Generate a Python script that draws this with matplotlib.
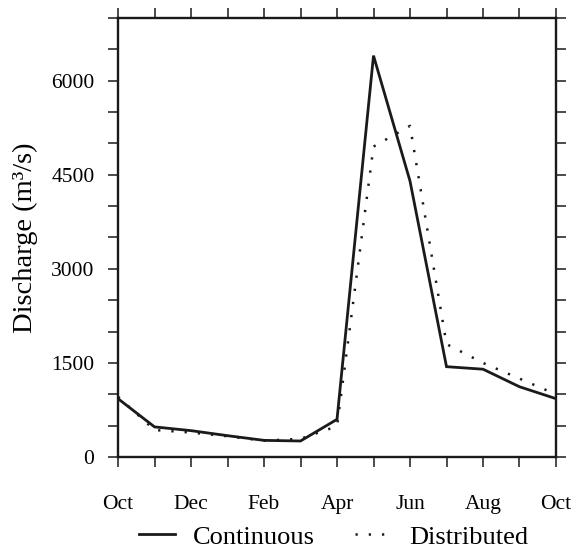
import matplotlib
matplotlib.use("Agg")
import matplotlib.pyplot as plt
from matplotlib.ticker import MultipleLocator, FixedLocator

plt.rcParams['font.family'] = ['Liberation Serif', 'DejaVu Serif']

# month index 0 = Oct ... 12 = Oct (next year)
months = list(range(13))
continuous = [930, 480, 420, 340, 265, 255, 600, 6400, 4400, 1440, 1400, 1120, 930]
distributed = [960, 430, 390, 330, 260, 290, 490, 4950, 5280, 1800, 1500, 1250, 1000]
xtick_pos = [0, 2, 4, 6, 8, 10, 12]
xtick_labels = ["Oct", "Dec", "Feb", "Apr", "Jun", "Aug", "Oct"]
ytick_major = [0, 1500, 3000, 4500, 6000]

fig = plt.figure(figsize=(5.86, 5.49), dpi=100)
ax = fig.add_axes([0.2014, 0.1676, 0.7474, 0.7996])

l1, = ax.plot(months, continuous, color='#1a1a1a', lw=2.0, solid_joinstyle='miter',
              label='Continuous')
l2, = ax.plot(months, distributed, color='#1a1a1a', lw=1.8, linestyle=(0, (0.9, 4.4)),
              dash_capstyle='butt', label='Distributed')

ax.set_xlim(0, 12)
ax.set_ylim(0, 7000)
ax.xaxis.set_major_locator(FixedLocator(xtick_pos))
ax.set_xticklabels(xtick_labels)
ax.xaxis.set_minor_locator(MultipleLocator(1))
ax.yaxis.set_major_locator(FixedLocator(ytick_major))
ax.yaxis.set_minor_locator(MultipleLocator(500))

for s in ax.spines.values():
    s.set_linewidth(1.7)
    s.set_color('#1a1a1a')

ax.tick_params(which='both', direction='out', length=7.5, width=1.1, color='#1a1a1a',
               top=True, right=True, labelsize=15.5)
ax.tick_params(axis='x', which='both', pad=20)
ax.tick_params(axis='y', which='both', pad=9.5)

ax.set_ylabel("Discharge (m³/s)", fontsize=20.5)
ax.yaxis.set_label_coords(-0.183, 0.5)

ax.legend(handles=[l1, l2], loc='center', bbox_to_anchor=(0.492, -0.182), ncol=2,
          frameon=False, fontsize=19, handlelength=1.35, columnspacing=1.5,
          handletextpad=0.7, borderaxespad=0, borderpad=0)

fig.savefig("out.png", dpi=100)
